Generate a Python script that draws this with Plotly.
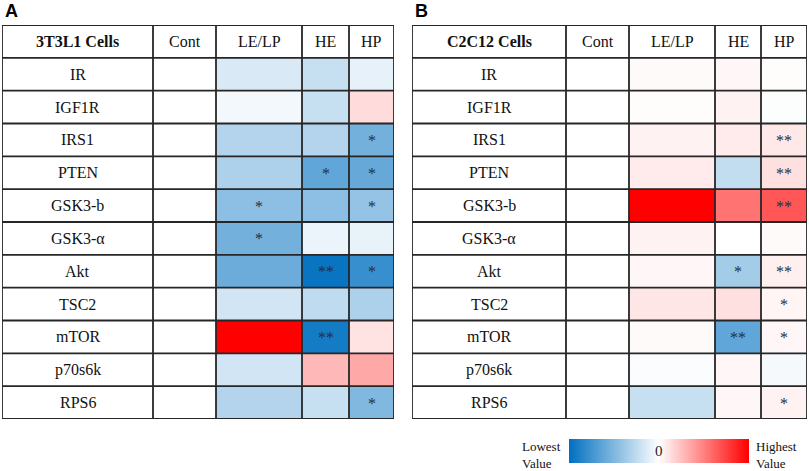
import plotly.graph_objects as go

W, H = 809, 471

rows = ["IR", "IGF1R", "IRS1", "PTEN", "GSK3-b", "GSK3-α", "Akt", "TSC2", "mTOR", "p70s6k", "RPS6"]
cols = ["Cont", "LE/LP", "HE", "HP"]

# relative values (-1 lowest, 0 no change, 1 highest); columns: Cont, LE/LP, HE, HP
a_cont = [0] * 11
a_lelp = [-0.15, -0.05, -0.30, -0.32, -0.45, -0.55, -0.58, -0.18, 1.00, -0.18, -0.30]
a_he   = [-0.22, -0.22, -0.30, -0.62, -0.45, -0.08, -0.97, -0.25, -0.92, 0.28, -0.22]
a_hp   = [-0.10, 0.14, -0.55, -0.60, -0.42, -0.09, -0.78, -0.32, 0.11, 0.34, -0.50]
a_sig_lelp = ["", "", "", "", "*", "*", "", "", "", "", ""]
a_sig_he   = ["", "", "", "*", "", "", "**", "", "**", "", ""]
a_sig_hp   = ["", "", "*", "*", "*", "", "*", "", "", "", "*"]

b_cont = [0] * 11
b_lelp = [0.02, 0.01, 0.05, 0.08, 1.00, 0.05, 0.03, 0.10, 0.02, -0.02, -0.22]
b_he   = [0.03, 0.05, 0.08, -0.24, 0.55, 0.00, -0.36, 0.12, -0.62, 0.03, 0.03]
b_hp   = [0.01, -0.01, 0.09, 0.12, 0.66, 0.02, 0.06, 0.04, 0.03, -0.04, 0.05]
b_sig_lelp = [""] * 11
b_sig_he   = ["", "", "", "", "", "", "*", "", "**", "", ""]
b_sig_hp   = ["", "", "**", "**", "**", "", "**", "*", "*", "", "*"]

panels = [
    dict(letter="A", title="3T3L1 Cells", vals=[a_cont, a_lelp, a_he, a_hp],
         sig=[[""] * 11, a_sig_lelp, a_sig_he, a_sig_hp],
         px=[2, 153, 216, 302, 349, 394]),
    dict(letter="B", title="C2C12 Cells", vals=[b_cont, b_lelp, b_he, b_hp],
         sig=[[""] * 11, b_sig_lelp, b_sig_he, b_sig_hp],
         px=[412, 566, 629, 715, 761, 807]),
]

top, bottom = 25, 419
nrows = len(rows) + 1

fig = go.Figure()
shapes = []
annotations = []
serif = "Liberation Serif"
line_col = "#262626"
fs = 16

for i, p in enumerate(panels):
    sfx = "" if i == 0 else str(i + 1)
    edges = [e - p["px"][0] for e in p["px"]]
    z = [[p["vals"][c][r] for c in range(4)] for r in range(len(rows))]
    txt = [[p["sig"][c][r] for c in range(4)] for r in range(len(rows))]
    fig.add_trace(go.Heatmap(
        z=z, x=edges[1:], y=list(range(1, nrows + 1)),
        text=txt, texttemplate="%{text}",
        textfont=dict(family=serif, size=16, color="#23303f"),
        coloraxis="coloraxis", xaxis="x" + sfx, yaxis="y" + sfx,
        hoverinfo="skip", xgap=0, ygap=0,
    ))
    xa = "x" + sfx
    ya = "y" + sfx
    fig.layout["xaxis" + sfx] = dict(domain=[p["px"][0] / W, p["px"][-1] / W],
                                     range=[0, edges[-1]], visible=False,
                                     anchor=ya, fixedrange=True)
    fig.layout["yaxis" + sfx] = dict(domain=[1 - bottom / H, 1 - top / H],
                                     range=[nrows, 0], visible=False,
                                     anchor=xa, fixedrange=True)
    for e in edges:
        shapes.append(dict(type="line", xref=xa, yref=ya, x0=e, x1=e, y0=0, y1=nrows,
                           line=dict(color=line_col, width=1.8)))
    for r in range(nrows + 1):
        shapes.append(dict(type="line", xref=xa, yref=ya, x0=0, x1=edges[-1], y0=r, y1=r,
                           line=dict(color=line_col, width=1.8)))
    annotations.append(dict(x=(edges[0] + edges[1]) / 2, y=0.5, xref=xa, yref=ya,
                            text="<b>" + p["title"] + "</b>", showarrow=False,
                            font=dict(family=serif, size=fs, color="#111")))
    for c, name in enumerate(cols):
        annotations.append(dict(x=(edges[c + 1] + edges[c + 2]) / 2, y=0.5, xref=xa, yref=ya,
                                text=name, showarrow=False,
                                font=dict(family=serif, size=fs, color="#111")))
    for r, name in enumerate(rows):
        annotations.append(dict(x=(edges[0] + edges[1]) / 2, y=r + 1.5, xref=xa, yref=ya,
                                text=name, showarrow=False,
                                font=dict(family=serif, size=fs, color="#111")))
    annotations.append(dict(x=(p["px"][0] + 1) / W, y=1 - 11 / H, xref="paper", yref="paper",
                            text="<b>" + p["letter"] + "</b>", showarrow=False,
                            xanchor="left", yanchor="middle",
                            font=dict(family="Liberation Sans", size=18, color="#000")))

annotations.append(dict(x=520 / W, y=1 - 455 / H, xref="paper", yref="paper",
                        text="Lowest<br>Value", showarrow=False, align="left",
                        xanchor="left", yanchor="middle",
                        font=dict(family=serif, size=13, color="#111")))
annotations.append(dict(x=754 / W, y=1 - 455 / H, xref="paper", yref="paper",
                        text="Highest<br>Value", showarrow=False, align="left",
                        xanchor="left", yanchor="middle",
                        font=dict(family=serif, size=13, color="#111")))
annotations.append(dict(x=659 / W, y=1 - 451 / H, xref="paper", yref="paper",
                        text="0", showarrow=False, xanchor="center", yanchor="middle",
                        font=dict(family=serif, size=15, color="#222")))

fig.update_layout(
    width=W, height=H,
    margin=dict(l=0, r=0, t=0, b=0),
    paper_bgcolor="white", plot_bgcolor="white",
    coloraxis=dict(
        cmin=-1, cmax=1,
        colorscale=[[0, "#0070C0"], [0.5, "#FFFFFF"], [1, "#FF0000"]],
        colorbar=dict(orientation="h", x=659 / W, xanchor="center",
                      y=1 - 451 / H, yanchor="middle",
                      len=180, lenmode="pixels", thickness=24, thicknessmode="pixels",
                      outlinewidth=0, showticklabels=False, ticks="",
                      xpad=0, ypad=0),
    ),
    shapes=shapes, annotations=annotations,
    showlegend=False,
)

fig.write_html("out.html",
               config={"displayModeBar": False, "staticPlot": True},
               post_script="document.body.style.margin='0';document.body.style.padding='0';"
                           "document.body.style.overflow='hidden';")
